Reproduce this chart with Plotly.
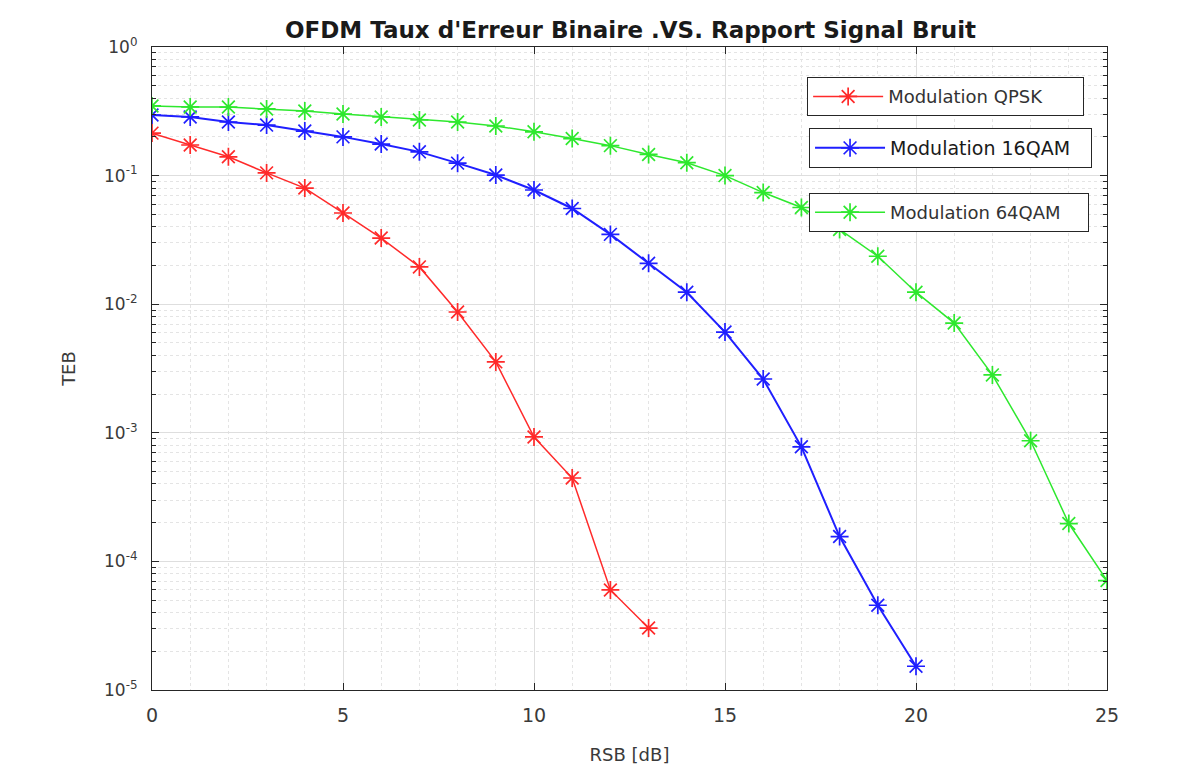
import plotly.graph_objects as go

# Rapport signal/bruit (dB) et taux d'erreur binaire mesurés pour chaque modulation
rsb_qpsk = list(range(0, 14))
teb_qpsk = [0.214, 0.173, 0.140, 0.105, 0.080, 0.0512, 0.0327, 0.0195, 0.0087,
            0.00356, 0.000928, 0.000445, 6.0e-5, 3.03e-5]

rsb_16qam = list(range(0, 21))
teb_16qam = [0.296, 0.286, 0.261, 0.247, 0.222, 0.200, 0.176, 0.153, 0.125, 0.101,
             0.0773, 0.0555, 0.0349, 0.0208, 0.0124, 0.00607, 0.00262, 0.000778,
             0.000156, 4.56e-5, 1.53e-5]

rsb_64qam = list(range(0, 26))
teb_64qam = [0.348, 0.342, 0.341, 0.330, 0.318, 0.301, 0.286, 0.271, 0.261, 0.243,
             0.219, 0.194, 0.171, 0.146, 0.126, 0.100, 0.0738, 0.0565, 0.0381,
             0.0236, 0.0124, 0.00713, 0.00282, 0.000867, 0.000197, 7.1e-5]

x_ticks = [0, 5, 10, 15, 20, 25]
y_ticks = [1e-5, 1e-4, 1e-3, 1e-2, 1e-1, 1]
y_ticktext = ["10<sup>-5</sup>", "10<sup>-4</sup>", "10<sup>-3</sup>",
              "10<sup>-2</sup>", "10<sup>-1</sup>", "10<sup>0</sup>"]

FONT = "DejaVu Sans"
AXIS_COLOR = "#262626"
TEXT_COLOR = "#3a3a3a"

fig = go.Figure()

series = [
    ("Modulation QPSK", rsb_qpsk, teb_qpsk, "#ff2a2a", 1.5, "legend"),
    ("Modulation 16QAM", rsb_16qam, teb_16qam, "#1f1fff", 2.0, "legend2"),
    ("Modulation 64QAM", rsb_64qam, teb_64qam, "#2ee82e", 1.5, "legend3"),
]
for name, x, y, color, width, leg in series:
    fig.add_trace(go.Scatter(
        x=x, y=y, name=name, mode="lines+markers",
        line=dict(color=color, width=width),
        marker=dict(symbol="asterisk-open", size=15,
                    line=dict(color=color, width=1.7)),
        legend=leg,
    ))

legend_common = dict(
    bgcolor="white", bordercolor=AXIS_COLOR, borderwidth=1,
    xanchor="left", yanchor="top", itemwidth=70,
    orientation="h",
)

fig.update_layout(
    width=1183, height=767,
    paper_bgcolor="white", plot_bgcolor="white",
    margin=dict(l=152, r=76, t=47, b=77),
    font=dict(family=FONT, color=TEXT_COLOR, size=16),
    title=dict(
        text="<b>OFDM Taux d'Erreur Binaire .VS. Rapport Signal Bruit</b>",
        x=0.533, xanchor="center", y=1 - 30 / 767, yanchor="middle",
        yref="container",
        font=dict(family=FONT, size=23, color="#1a1a1a"),
    ),
    xaxis=dict(
        range=[0, 25], tickvals=x_ticks, automargin=False,
        showline=True, linecolor=AXIS_COLOR, linewidth=1.2, mirror="ticks",
        ticks="inside", ticklen=7, tickcolor=AXIS_COLOR,
        showgrid=True, gridcolor="#dedede", gridwidth=1,
        zeroline=False,
        minor=dict(dtick=1, showgrid=True, gridcolor="#e4e4e4",
                   griddash="dot", ticks=""),
        tickfont=dict(size=19, color=TEXT_COLOR),
        ticklabelstandoff=8,
        title=dict(text="RSB [dB]", standoff=23,
                   font=dict(size=18, color=TEXT_COLOR)),
    ),
    yaxis=dict(
        type="log", range=[-5, 0], automargin=False,
        tickmode="array", tickvals=y_ticks, ticktext=y_ticktext,
        showline=True, linecolor=AXIS_COLOR, linewidth=1.2, mirror="ticks",
        ticks="inside", ticklen=7, tickcolor=AXIS_COLOR,
        showgrid=True, gridcolor="#dedede", gridwidth=1,
        zeroline=False,
        minor=dict(dtick="D1", showgrid=True, gridcolor="#e4e4e4",
                   griddash="dot", ticks="inside", ticklen=4,
                   tickcolor=AXIS_COLOR),
        tickfont=dict(size=17, color=TEXT_COLOR),
        ticklabelstandoff=10,
        title=dict(text="TEB", standoff=23,
                   font=dict(size=18, color=TEXT_COLOR)),
    ),
    legend=dict(x=0.686, y=0.953, entrywidth=190,
                font=dict(size=18, color="#333333"), **legend_common),
    legend2=dict(x=0.688, y=0.874, entrywidth=196,
                 font=dict(size=19, color="#1a1a1a"), **legend_common),
    legend3=dict(x=0.688, y=0.773, entrywidth=193,
                 font=dict(size=18, color="#333333"), **legend_common),
    showlegend=True,
)

fig.write_html("out.html")
